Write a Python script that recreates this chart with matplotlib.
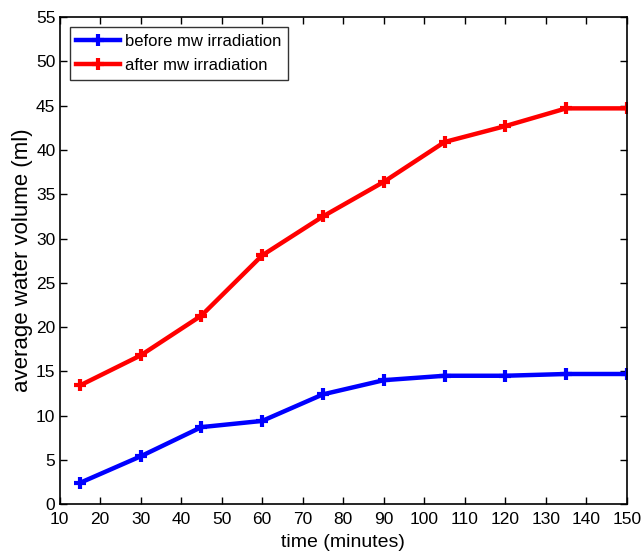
import matplotlib
matplotlib.use('Agg')
import matplotlib.pyplot as plt

time_min = [15, 30, 45, 60, 75, 90, 105, 120, 135, 150]
before_mw = [2.4, 5.4, 8.7, 9.4, 12.4, 14.0, 14.5, 14.5, 14.7, 14.7]
after_mw = [13.4, 16.8, 21.3, 28.1, 32.5, 36.4, 40.9, 42.7, 44.7, 44.7]

plt.rcParams['font.family'] = ['Liberation Sans', 'DejaVu Sans']

fig = plt.figure(figsize=(6.41, 5.54), dpi=100)
ax = fig.add_axes([0.093, 0.09, 0.885, 0.879])

ax.plot(time_min, before_mw, color='#0000ff', linewidth=3.2, marker='+',
        markersize=9, markeredgewidth=3, label='before mw irradiation')
ax.plot(time_min, after_mw, color='#ff0000', linewidth=3.2, marker='+',
        markersize=9, markeredgewidth=3, label='after mw irradiation')

ax.set_xlim(10, 150)
ax.set_ylim(0, 55)
ax.set_xticks(range(10, 151, 10))
ax.set_yticks(range(0, 56, 5))
ax.tick_params(direction='in', top=True, right=True, length=5, width=1,
               labelsize=12.5)
ax.tick_params(axis='x', pad=6)
ax.tick_params(axis='y', pad=3)
for s in ax.spines.values():
    s.set_linewidth(1.2)

ax.set_xlabel('time (minutes)', fontsize=14, labelpad=5)
ax.set_ylabel('average water volume (ml)', fontsize=16, labelpad=2)

leg = ax.legend(loc='upper left', fontsize=12, frameon=True, fancybox=False,
                edgecolor='black', handlelength=2.6, borderaxespad=0.6,
                handletextpad=0.3, labelspacing=0.55, borderpad=0.4)
leg.get_frame().set_linewidth(1.0)

fig.savefig('out.png', dpi=100)
